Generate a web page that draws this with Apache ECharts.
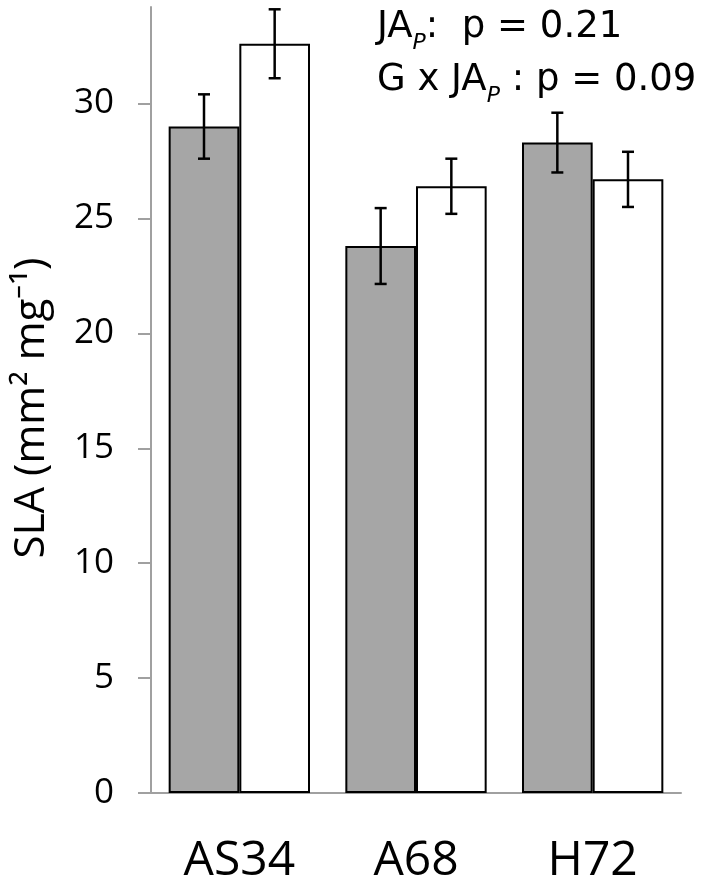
<!DOCTYPE html>
<html>
<head>
<meta charset="utf-8">
<script src="https://cdn.jsdelivr.net/npm/echarts@6/dist/echarts.min.js"></script>
<style>
html, body { margin: 0; padding: 0; background: #fff; }
#chart { width: 706px; height: 889px; }
</style>
</head>
<body>
<div id="chart"></div>
<script>
var categories = ['AS34', 'A68', 'H72'];
var greyMeans = [29.0, 23.8, 28.3];
var greyErrors = [1.4, 1.65, 1.3];
var whiteMeans = [32.6, 26.4, 26.7];
var whiteErrors = [1.5, 1.2, 1.2];
var yTicks = [0, 5, 10, 15, 20, 25, 30];

var chart = echarts.init(document.getElementById('chart'));

function errorData(means, errs) {
	var out = [];
	for (var i = 0; i < means.length; i++) {
		out.push([i, means[i] - errs[i], means[i] + errs[i]]);
	}
	return out;
}

// side: -1 left bar of the pair, +1 right bar
function errorBars(side) {
	return function (params, api) {
		var band = api.size([1, 0])[0];
		var off = side * band * 0.2;
		var lo = api.coord([api.value(0), api.value(1)]);
		var hi = api.coord([api.value(0), api.value(2)]);
		var x = lo[0] + off;
		var half = 6;
		var st = { stroke: '#000', lineWidth: 2.5 };
		return {
			type: 'group',
			children: [
				{ type: 'line', shape: { x1: x, y1: hi[1], x2: x, y2: lo[1] }, style: st },
				{ type: 'line', shape: { x1: x - half, y1: hi[1], x2: x + half, y2: hi[1] }, style: st },
				{ type: 'line', shape: { x1: x - half, y1: lo[1], x2: x + half, y2: lo[1] }, style: st }
			]
		};
	};
}

var axisGrey = '#a0a0a0';

var option = {
	animation: false,
	backgroundColor: '#fff',
	grid: {
		left: 151,
		right: 25,
		top: 7,
		bottom: 96,
		outerBoundsMode: 'none'
	},
	xAxis: {
		type: 'category',
		data: categories,
		axisLine: { show: true, lineStyle: { color: axisGrey, width: 2 } },
		axisTick: { show: false },
		axisLabel: {
			color: '#000',
			fontFamily: 'Open Sans',
			fontSize: 48,
			margin: 44
		}
	},
	yAxis: {
		type: 'value',
		min: 0,
		max: 34.2,
		interval: 5,
		name: 'SLA (mm² mg⁻¹)',
		nameLocation: 'middle',
		nameRotate: 90,
		nameGap: 98,
		nameTextStyle: {
			color: '#000',
			fontFamily: 'Open Sans',
			fontSize: 42,
			padding: [0, 16, 0, 0]
		},
		splitLine: { show: false },
		axisLine: { show: true, lineStyle: { color: axisGrey, width: 2 } },
		axisTick: {
			show: true,
			length: 13,
			customValues: yTicks,
			lineStyle: { color: axisGrey, width: 2 }
		},
		axisLabel: {
			color: '#000',
			fontFamily: 'Open Sans',
			fontSize: 35,
			margin: 37,
			customValues: yTicks
		}
	},
	graphic: [
		{
			type: 'text',
			left: 377,
			top: 9,
			style: {
				text: '{n|JA}{s|P}{n|:  p = 0.21}\n{n|G x JA}{s|P}{n| : p = 0.09}',
				rich: {
					n: { fontFamily: 'DejaVu Sans', fontSize: 37, lineHeight: 53, fill: '#000', verticalAlign: 'middle' },
					s: { fontFamily: 'DejaVu Sans', fontSize: 22, fontStyle: 'italic', lineHeight: 30, fill: '#000', verticalAlign: 'bottom' }
				}
			}
		}
	],
	series: [
		{
			name: 'grey',
			type: 'bar',
			data: greyMeans,
			barGap: '0%',
			barCategoryGap: '20%',
			itemStyle: { color: '#a6a6a6', borderColor: '#000', borderWidth: 2 }
		},
		{
			name: 'white',
			type: 'bar',
			data: whiteMeans,
			barGap: '0%',
			barCategoryGap: '20%',
			itemStyle: { color: '#fff', borderColor: '#000', borderWidth: 2 }
		},
		{
			type: 'custom',
			renderItem: errorBars(-1),
			data: errorData(greyMeans, greyErrors),
			encode: { x: 0, y: [1, 2] },
			z: 5,
			clip: false
		},
		{
			type: 'custom',
			renderItem: errorBars(1),
			data: errorData(whiteMeans, whiteErrors),
			encode: { x: 0, y: [1, 2] },
			z: 5,
			clip: false
		}
	]
};

chart.setOption(option);
</script>
</body>
</html>
